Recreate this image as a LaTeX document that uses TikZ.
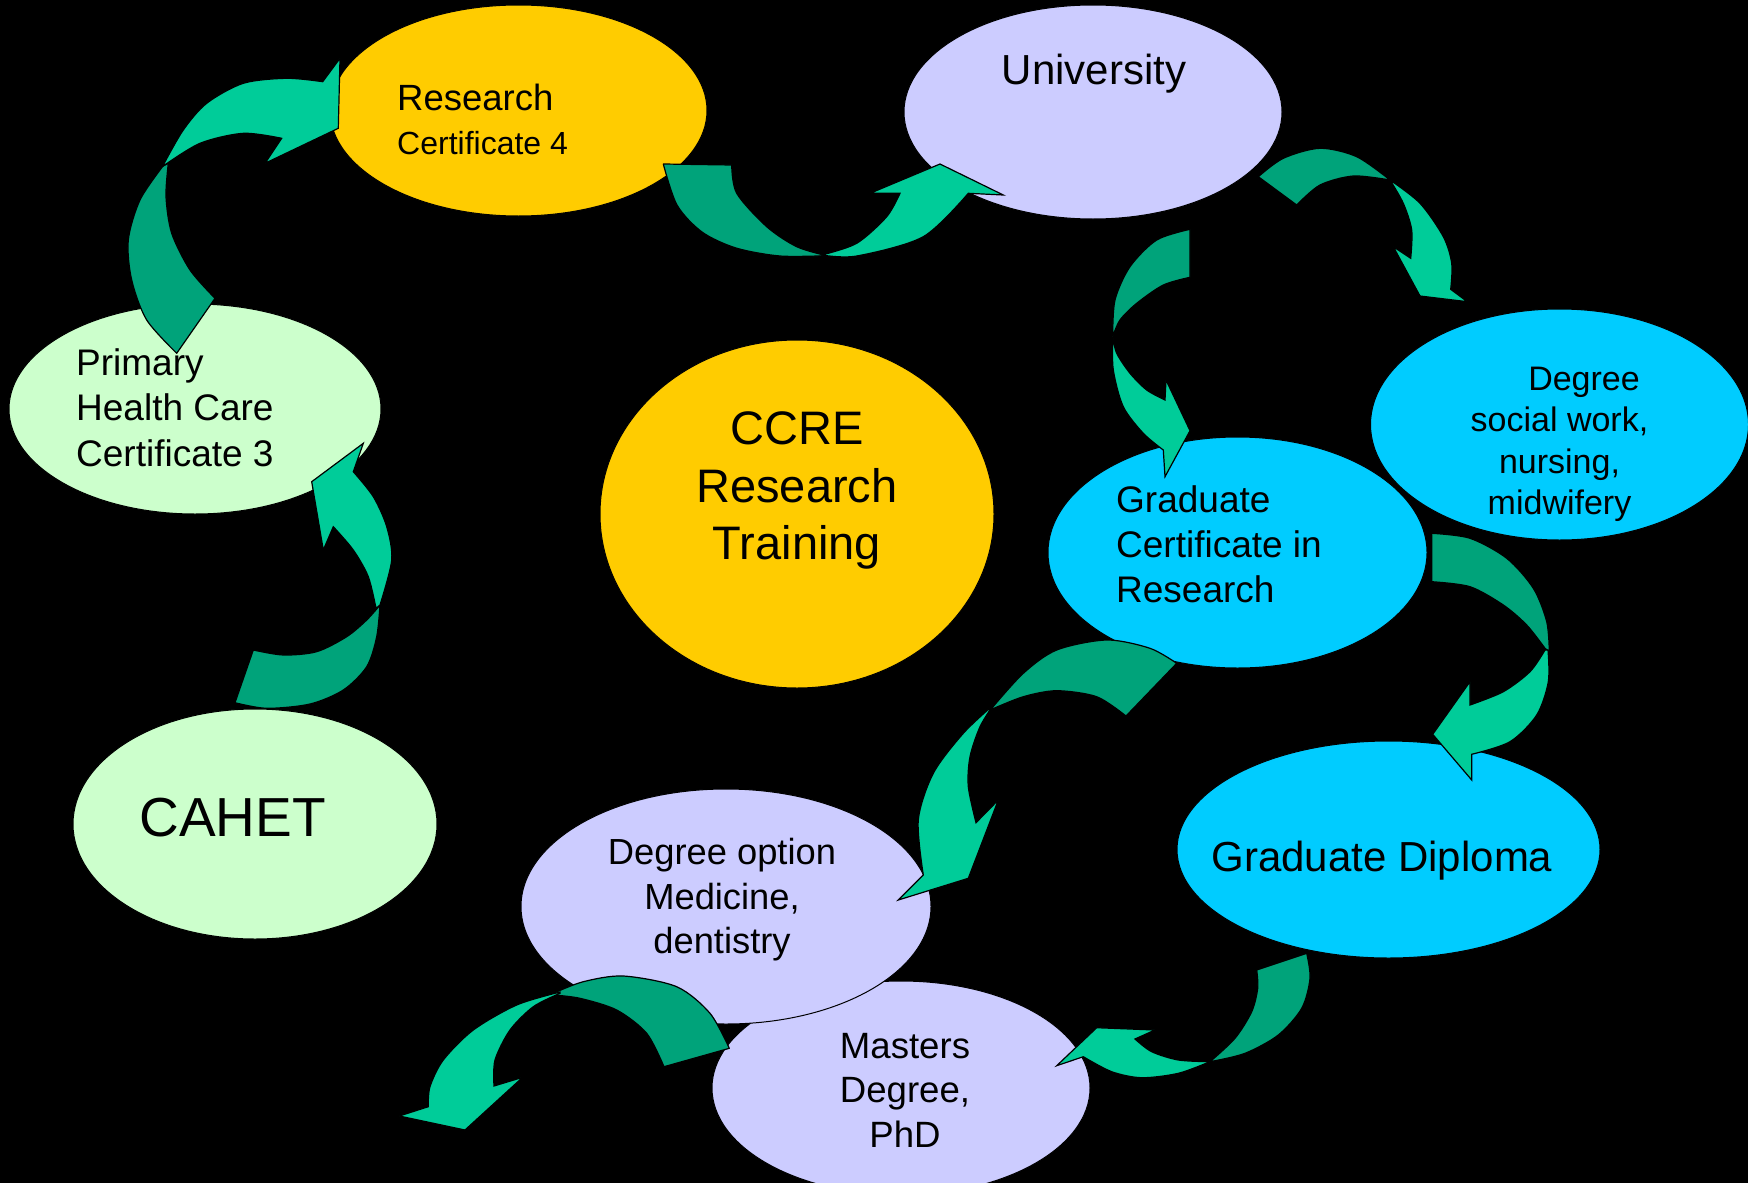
\documentclass[tikz,border=0pt]{standalone}
\usepackage{fontspec}
\setmainfont{Liberation Sans}
\usetikzlibrary{shapes.geometric}
\definecolor{cyel}{HTML}{FFCC00}
\definecolor{clav}{HTML}{CCCCFF}
\definecolor{cpg}{HTML}{CCFFCC}
\definecolor{ccyan}{HTML}{00CCFF}
\definecolor{adark}{HTML}{00A37A}
\definecolor{alight}{HTML}{00CC99}
\newcommand\fsz[2]{\fontsize{#1}{#2}\selectfont}
\begin{document}
\begin{tikzpicture}[x=1pt,y=-1pt,
  bub/.style={ellipse, draw=black, line width=1pt, inner sep=0pt},
  dk/.style={fill=adark, draw=black, line width=1.2pt, line join=round},
  lt/.style={fill=alight, draw=black, line width=1.2pt, line join=miter},
  lbl/.style={inner sep=0pt, text=black}]
\useasboundingbox (0,0) rectangle (1748,1183);
\fill[black] (0,0) rectangle (1748,1183);

% ellipses
\node[bub, fill=cyel, minimum width=377pt, minimum height=211pt] (res) at (518.5,110.5) {};
\node[bub, fill=clav, minimum width=378pt, minimum height=214pt] (uni) at (1093,112) {};
\node[bub, fill=cpg, minimum width=372pt, minimum height=210pt] (phc) at (195,409) {};
\node[bub, fill=cpg, minimum width=364pt, minimum height=230pt] (cahet) at (255,824) {};
\node[bub, fill=cyel, minimum width=394pt, minimum height=348pt] (ccre) at (797,514) {};
\node[bub, fill=ccyan, minimum width=378pt, minimum height=231pt] (deg) at (1559.5,424.5) {};
\node[bub, fill=ccyan, minimum width=379pt, minimum height=231pt] (gcert) at (1237.5,552.5) {};
\node[bub, fill=ccyan, minimum width=423pt, minimum height=217pt] (gdip) at (1388.5,849.5) {};
\node[bub, fill=clav, minimum width=378pt, minimum height=214pt] (mast) at (901,1088) {};
\node[bub, fill=clav, minimum width=410pt, minimum height=235pt] (dopt) at (726,906.5) {};

% arrow CAHET -> Primary
\filldraw[dk] plot[smooth] coordinates {(235,702.7) (266.7,708.3) (310,704) (343.3,690) (366.7,666.7) (376.7,636.7) (380,605)}
  -- plot[smooth] coordinates {(380,605) (366.7,620) (346.7,636.7) (316.7,651.7) (283.3,655) (253.3,650)} -- cycle;
\filldraw[lt] plot[smooth] coordinates {(380,605) (391.7,560) (386.7,526.7) (373.3,496.7) (353.3,471.7)}
  -- (363.3,443.3) -- (311.7,481.7) -- (323.3,550) -- (333.3,526.7)
  -- plot[smooth] coordinates {(333.3,526.7) (353.3,550) (368.3,576.7) (376,608.3)} -- cycle;

% arrow Primary -> Research
\filldraw[dk] (176.7,353.3) -- plot[smooth] coordinates {(215,298.3) (190,270) (171.7,233.3) (166,196.7) (168.3,163.3)}
  -- plot[smooth] coordinates {(163,166) (140,200) (128.3,240) (131.7,280) (146.7,320) (176.7,353.3)} -- cycle;
\filldraw[lt] plot[smooth] coordinates {(163.3,166) (200,143.3) (243.3,133.3) (281.7,138.3)}
  -- (265,163.3) -- (338.3,128.3) -- (340,58.3) -- (322.7,81.7)
  -- plot[smooth] coordinates {(322.7,81.7) (286.7,78.3) (243.3,83.3) (206.7,103.3) (183.3,130) (163.3,165)} -- cycle;

% arrow Research -> University
\filldraw[dk] (663.3,164) -- plot[smooth] coordinates {(731.7,165) (736.7,193.3) (766.7,226.7) (796.7,246.7) (826.7,255.7)}
  -- plot[smooth] coordinates {(826.7,255.7) (780,256) (736,248) (702,232) (677,205) (663.3,164)} -- cycle;
\filldraw[lt] plot[smooth] coordinates {(821.7,255) (856.7,256) (923.3,236.7) (968.3,193.3)}
  -- (1003.3,195) -- (940,164) -- (870,193.3) -- (900,193.3)
  -- plot[smooth] coordinates {(900,193.3) (886.7,216.7) (856.7,243.3) (821.7,255)} -- cycle;

% arrow University -> Degree
\filldraw[dk] (1258.3,176.7) -- plot[smooth] coordinates {(1296.7,205) (1320,185) (1353.3,176) (1390,180)}
  -- plot[smooth] coordinates {(1390,180) (1356.7,156.7) (1320,148.3) (1283.3,158.3) (1258.3,176.7)} -- cycle;
\filldraw[lt] plot[smooth] coordinates {(1390,180) (1420,203.3) (1443.3,236.7) (1451.7,263.3) (1450.7,289.3)}
  -- (1467.3,301.7) -- (1420,296) -- (1393.3,246.7) -- (1410.7,258.3)
  -- plot[smooth] coordinates {(1410.7,258.3) (1411.7,230) (1403.3,203.3) (1390,180)} -- cycle;

% arrow University -> Graduate Certificate
\filldraw[dk] (1190,229.3) -- plot[smooth] coordinates {(1190,277.3) (1163.3,285) (1136.7,303.3) (1120,320) (1112.7,336.7)}
  -- plot[smooth] coordinates {(1112.7,336.7) (1115,300) (1130,266.7) (1156.7,240) (1190,229.3)} -- cycle;
\filldraw[lt] plot[smooth] coordinates {(1112.7,336.7) (1113.3,370) (1123.3,406.7) (1143.3,433.3) (1163.3,450)}
  -- (1165,476.7) -- (1190,430.7) -- (1166,380) -- (1165,400)
  -- plot[smooth] coordinates {(1165,400) (1146.7,390) (1130,373.3) (1116.7,353.3) (1112.7,336.7)} -- cycle;

% arrow Graduate Certificate -> Graduate Diploma
\filldraw[dk] (1431.7,533.3) -- plot[smooth] coordinates {(1431.7,581.7) (1470,586.7) (1503.3,605) (1526.7,625) (1545,648.3)}
  -- plot[smooth] coordinates {(1549.3,651.7) (1546.7,621.7) (1533.3,588.3) (1506.7,558.3) (1470,538.3) (1431.7,533.3)} -- cycle;
\filldraw[lt] plot[smooth] coordinates {(1548,650) (1548.3,681.7) (1536.7,715) (1510,741.7) (1471.7,754.3)}
  -- (1471.7,780) -- (1432.7,734.3) -- (1470,681.7) -- (1470,705)
  -- plot[smooth] coordinates {(1470,705) (1503.3,691.7) (1530,671.7) (1545,650)} -- cycle;

% arrow Graduate Certificate -> Degree option
\filldraw[dk] (1176.7,663.3) -- plot[smooth] coordinates {(1126,716) (1096.7,696.7) (1056.7,690.7) (1023.3,696.7) (991.7,709.3)}
  -- plot[smooth] coordinates {(991.7,708.3) (1023.3,673.3) (1056.7,650) (1106.7,640) (1150,648.3) (1176.7,663.3)} -- cycle;
\filldraw[lt] plot[smooth] coordinates {(993.3,705) (963.3,733.3) (933.3,773.3) (918.3,820) (923.3,875)}
  -- (898.3,900) -- (968.3,878.3) -- (998.3,800) -- (976,822.7)
  -- plot[smooth] coordinates {(976,822.7) (968.3,786.7) (970,756.7) (980,726.7) (993.3,705)} -- cycle;

% arrow Graduate Diploma -> Masters
\filldraw[dk] (1256.7,970) -- plot[smooth] coordinates {(1306.7,953.3) (1310,978.3) (1301.7,1008.3) (1278.3,1035) (1245,1053.3) (1210,1061.7)}
  -- plot[smooth] coordinates {(1210,1061.7) (1235,1038.3) (1251.7,1011.7) (1257.7,988.3) (1256.7,970)} -- cycle;
\filldraw[lt] plot[smooth] coordinates {(1210,1061.7) (1178.3,1073.3) (1141.7,1077.7) (1111.7,1071.7) (1083.3,1056.7)}
  -- (1056.7,1065.7) -- (1096.7,1027.7) -- (1155,1030) -- (1135,1039)
  -- plot[smooth] coordinates {(1135,1039) (1151.7,1051.7) (1178.3,1060) (1210,1061.7)} -- cycle;

% arrow Degree option -> onward
\filldraw[dk] (729.3,1048.3) -- plot[smooth] coordinates {(664,1066.7) (646.7,1033.3) (616.7,1010) (580,998.3) (553.3,995)}
  -- plot[smooth] coordinates {(553.3,993.3) (583.3,981.7) (623.3,976) (676.7,986.7) (710,1013.3) (729.3,1048.3)} -- cycle;
\filldraw[lt] plot[smooth] coordinates {(560,992) (516.7,1005) (473.3,1030) (443.3,1060) (430,1086.7) (428.3,1106.7)}
  -- (399.3,1116) -- (465,1130) -- (522.7,1077.3) -- (494,1086)
  -- plot[smooth] coordinates {(494,1086) (495,1060) (510,1030) (533.3,1006.7) (560,993.3)} -- cycle;

% labels
\node[lbl, anchor=base west] (resT) at (397,110.5) {\fsz{36.5}{43.5}\begin{tabular}[t]{@{}l@{}}Research\\{\fsz{32}{38}Certificate 4}\end{tabular}};
\node[lbl, anchor=base] (uniT) at (1094,84) {\fsz{42}{50}University};
\node[lbl, anchor=base west] (phcT) at (76,375.5) {\fsz{37}{45.3}\begin{tabular}[t]{@{}l@{}}Primary\\Health Care\\Certificate 3\end{tabular}};
\node[lbl, anchor=base] (cahetT) at (232.5,836) {\fsz{55}{66}CAHET};
\node[lbl, anchor=base] (ccreT) at (797,444.5) {\fsz{47}{57.5}\begin{tabular}[t]{@{}c@{}}CCRE\\Research\\Training\end{tabular}};
\node[lbl, anchor=base] (degT) at (1559.5,390.4) {\fsz{34}{41.4}\begin{tabular}[t]{@{}c@{}}\hspace*{49pt}Degree\\social work,\\nursing,\\midwifery\end{tabular}};
\node[lbl, anchor=base west] (gcertT) at (1116,512.5) {\fsz{37}{45}\begin{tabular}[t]{@{}l@{}}Graduate\\Certificate in\\Research\end{tabular}};
\node[lbl, anchor=base] (gdipT) at (1382,871.5) {\fsz{42}{50}Graduate Diploma};
\node[lbl, anchor=base] (doptT) at (722,864.7) {\fsz{36.3}{44.3}\begin{tabular}[t]{@{}c@{}}Degree option\\Medicine,\\dentistry\end{tabular}};
\node[lbl, anchor=base] (mastT) at (905,1058) {\fsz{36.6}{44.5}\begin{tabular}[t]{@{}c@{}}Masters\\Degree,\\PhD\end{tabular}};
\end{tikzpicture}
\end{document}
